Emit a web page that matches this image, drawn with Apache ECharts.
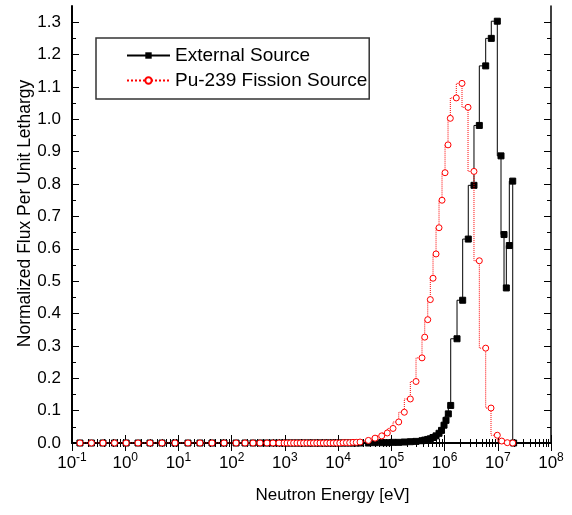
<!DOCTYPE html>
<html>
<head>
<meta charset="utf-8">
<script src="https://cdn.jsdelivr.net/npm/echarts@6/dist/echarts.min.js"></script>
<style>html,body{margin:0;padding:0;background:#fff}#c{width:572px;height:515px}</style>
</head>
<body>
<div id="c"></div>
<script>
// ---- data ----
const xDecades = [0.1, 1, 10, 100, 1e3, 1e4, 1e5, 1e6, 1e7, 1e8];
const yTickValues = [0, 0.1, 0.2, 0.3, 0.4, 0.5, 0.6, 0.7, 0.8, 0.9, 1.0, 1.1, 1.2, 1.3];
const yMinorValues = [0.05, 0.15, 0.25, 0.35, 0.45, 0.55, 0.65, 0.75, 0.85, 0.95, 1.05, 1.15, 1.25];

const lowEnergies = [0.141, 0.232, 0.382, 0.629, 1.04, 1.74, 2.92, 4.91, 8.61, 15.1, 25.4, 42.7, 71.8, 121, 178, 252, 341, 461, 598, 776, 964,
  1097, 1265, 1459, 1683, 1941, 2239, 2582, 2978, 3435, 3962, 4570, 5271, 6080, 7012, 8088, 9328, 10760, 12410, 14320, 16510, 19050, 21970];

const pu239Energy = [25800, 37000, 49400, 65900, 84000, 107600, 137700, 175400, 227400, 291000, 377000, 424000, 483000, 540000, 607000,
  692000, 787000, 896000, 1021000, 1162000, 1283000, 1663000, 2128000, 2760000, 3570000, 4500000, 5930000, 7460000, 9800000, 11860000,
  15110000, 19090000];
const pu239Low = [0, 0, 0, 0, 0, 0, 0, 0, 0, 0, 0, 0, 0, 0, 0, 0, 0, 0, 0, 0, 0,
  0, 0, 0, 0, 0, 0, 0, 0, 0, 0, 0, 0, 0, 0, 0, 0, 0, 0.001, 0.001, 0.001, 0.002, 0.002];
const pu239Flux = [0.003, 0.008, 0.015, 0.022, 0.031, 0.045, 0.065, 0.095, 0.136, 0.190, 0.263, 0.327, 0.381, 0.443, 0.509,
  0.584, 0.665, 0.750, 0.835, 0.921, 1.003, 1.066, 1.111, 1.037, 0.839, 0.563, 0.293, 0.108, 0.024, 0.006,
  0.001, 0.000];

const extEnergy = [25800, 37000, 49400, 65900, 84000, 107600, 137700, 175400, 227400, 291000, 377000, 424000, 483000, 540000, 607000,
  692000, 787000, 877000, 977000, 1064000, 1177000, 1305000, 1715000, 2190000, 2790000, 3570000, 4500000, 5930000, 7550000, 9800000,
  11500000, 13100000, 14480000, 16480000, 19090000, 19850000];
const extLow = [0, 0, 0, 0, 0, 0, 0, 0, 0, 0, 0, 0, 0, 0, 0, 0, 0, 0, 0, 0, 0,
  0, 0, 0, 0, 0, 0, 0, 0, 0, 0, 0, 0, 0, 0, 0, 0, 0, 0, 0, 0, 0, 0];
const extFlux = [0.000, 0.000, 0.001, 0.001, 0.001, 0.002, 0.002, 0.003, 0.004, 0.005, 0.007, 0.009, 0.011, 0.013, 0.017,
  0.022, 0.030, 0.039, 0.055, 0.070, 0.090, 0.116, 0.322, 0.441, 0.630, 0.796, 0.981, 1.165, 1.250, 1.303,
  0.887, 0.644, 0.479, 0.610, 0.809, 0.000];

const seriesNames = ['External Source', 'Pu-239 Fission Source'];

// ---- build ----
const pairs = (xs, ys) => xs.map((x, i) => [x, ys[i]]);
const extData = pairs(lowEnergies.concat(extEnergy), extLow.concat(extFlux));
const puData = pairs(lowEnergies.concat(pu239Energy), pu239Low.concat(pu239Flux));
const xMinor = [];
xDecades.slice(0, -1).forEach(d => { for (let k = 2; k <= 9; k++) xMinor.push(+(k * d).toPrecision(3)); });

const FONT = 'Liberation Sans, Arial, sans-serif';
const X0 = 0.1, X1 = 1e8, Y0 = 0, Y1 = 1.35;

function xAx(pos, major, showLabel, extra) {
  return Object.assign({
    type: 'log', logBase: 10, min: X0, max: X1, position: pos,
    gridIndex: 0,
    axisLine: { show: major, lineStyle: { color: '#000', width: pos === 'bottom' ? 2 : 1.5 } },
    axisTick: { show: true, inside: true, length: major ? 8 : 4, customValues: major ? xDecades : xMinor,
      lineStyle: { color: '#000', width: 1 } },
    axisLabel: showLabel ? {
      show: true, customValues: xDecades, margin: 9,
      formatter: v => '{b|10}{s|' + Math.round(Math.log10(v)) + '}',
      rich: { b: { fontSize: 17, fontFamily: FONT, color: '#000' },
              s: { fontSize: 12, fontFamily: FONT, color: '#000', padding: [0, 0, 10, 0] } }
    } : { show: false },
    splitLine: { show: false }, minorTick: { show: false }, minorSplitLine: { show: false }
  }, extra || {});
}
function yAx(pos, major, showLabel, extra) {
  return Object.assign({
    type: 'value', min: Y0, max: Y1, position: pos,
    axisLine: { show: major, onZero: false, lineStyle: { color: '#000', width: pos === 'left' ? 2 : 1.5 } },
    axisTick: { show: true, inside: true, length: major ? 7 : 4, customValues: major ? yTickValues : yMinorValues,
      lineStyle: { color: '#000', width: 1 } },
    axisLabel: showLabel ? { show: true, customValues: yTickValues, margin: 11, fontSize: 17, fontFamily: FONT, color: '#000',
      formatter: v => v.toFixed(1) } : { show: false },
    splitLine: { show: false }
  }, extra || {});
}

const chart = echarts.init(document.getElementById('c'), null, { renderer: 'canvas' });
chart.setOption({
  animation: false,
  backgroundColor: '#fff',
  grid: { left: 72, right: 21, top: 6, bottom: 72, containLabel: false },
  legend: {
    orient: 'vertical', left: 96, top: 38,
    padding: [8, 2, 9, 30], itemGap: 6,
    itemWidth: 43, itemHeight: 8,
    borderColor: '#333', borderWidth: 1.5, backgroundColor: '#fff',
    textStyle: { fontSize: 19, fontFamily: FONT, color: '#000', lineHeight: 19 },
    data: seriesNames
  },
  xAxis: [
    xAx('bottom', true, true, { name: 'Neutron Energy [eV]', nameLocation: 'middle', nameGap: 44, nameMoveOverlap: false,
      nameTextStyle: { fontSize: 17, fontFamily: FONT, color: '#000', padding: [0, 0, 0, 42] } }),
    xAx('bottom', false, false),
    xAx('top', true, false),
    xAx('top', false, false)
  ],
  yAxis: [
    yAx('left', true, true, { name: 'Normalized Flux Per Unit Lethargy', nameLocation: 'middle', nameGap: 38, nameMoveOverlap: false,
      nameTextStyle: { fontSize: 17.5, fontFamily: FONT, color: '#000', padding: [0, 0, 0, 22] } }),
    yAx('left', false, false),
    yAx('right', true, false),
    yAx('right', false, false)
  ],
  series: [
    { name: seriesNames[0], type: 'line', step: 'start', data: extData,
      symbol: 'rect', symbolSize: 6, showAllSymbol: true,
      itemStyle: { color: '#000', borderColor: '#000' },
      lineStyle: { color: '#000', width: 1 }, z: 3 },
    { name: seriesNames[1], type: 'line', step: 'start', data: puData,
      symbol: 'circle', symbolSize: 6, showAllSymbol: true,
      itemStyle: { color: '#fff', borderColor: '#ff0000', borderWidth: 1 },
      lineStyle: { color: '#ff0000', width: 1, type: 'dotted' }, z: 4 }
  ]
});
</script>
</body>
</html>
